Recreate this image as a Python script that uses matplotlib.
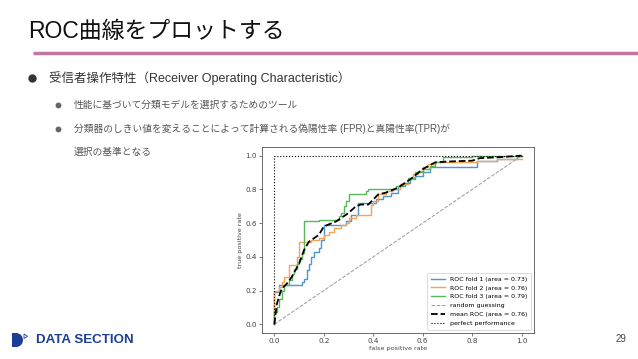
import matplotlib
matplotlib.use('Agg')
import matplotlib.pyplot as plt
from matplotlib.patches import Rectangle, Wedge, Polygon

# ROC data (corner points of each step curve)
fold1_fpr = [0.0, 0.0, 0.02, 0.11, 0.12, 0.13, 0.14, 0.15, 0.16, 0.18, 0.19, 0.2, 0.29, 0.31, 0.34,
             0.41, 0.44, 0.47, 0.5, 0.53, 0.55, 0.57, 0.6, 0.63, 0.82, 0.9, 0.98, 1.0]
fold1_tpr = [0.0, 0.19, 0.23, 0.25, 0.27, 0.32, 0.36, 0.40, 0.43, 0.45, 0.50, 0.59, 0.61, 0.65, 0.72,
             0.74, 0.76, 0.78, 0.82, 0.84, 0.86, 0.88, 0.90, 0.93, 0.97, 0.98, 1.0, 1.0]

fold2_fpr = [0.0, 0.0, 0.02, 0.03, 0.04, 0.06, 0.09, 0.10, 0.15, 0.18, 0.2, 0.22, 0.24, 0.27, 0.29,
             0.3, 0.33, 0.39, 0.40, 0.42, 0.45, 0.48, 0.51, 0.54, 0.56, 0.58, 0.6, 0.62, 0.65,
             0.82, 0.9, 1.0]
fold2_tpr = [0.0, 0.20, 0.22, 0.25, 0.28, 0.35, 0.40, 0.49, 0.50, 0.51, 0.53, 0.55, 0.57, 0.59, 0.60,
             0.63, 0.65, 0.71, 0.73, 0.77, 0.79, 0.80, 0.83, 0.86, 0.89, 0.91, 0.93, 0.95, 0.96,
             0.97, 0.98, 0.98]

fold3_fpr = [0.0, 0.0, 0.01, 0.02, 0.03, 0.04, 0.06, 0.07, 0.08, 0.09, 0.10, 0.11, 0.12, 0.18, 0.26,
             0.27, 0.28, 0.29, 0.3, 0.37, 0.38, 0.49, 0.52, 0.54, 0.57, 0.6, 0.63, 0.65, 0.68,
             0.8, 1.0]
fold3_tpr = [0.0, 0.07, 0.10, 0.15, 0.20, 0.23, 0.26, 0.30, 0.33, 0.36, 0.39, 0.42, 0.61, 0.62, 0.64,
             0.66, 0.70, 0.73, 0.77, 0.79, 0.80, 0.82, 0.84, 0.87, 0.90, 0.92, 0.94, 0.96, 0.99,
             1.0, 1.0]

mean_fpr = [0.0, 0.01, 0.02, 0.03, 0.05, 0.07, 0.1, 0.12, 0.14, 0.16, 0.18, 0.2, 0.25, 0.3, 0.33,
            0.35, 0.38, 0.4, 0.42, 0.45, 0.5, 0.55, 0.6, 0.65, 0.7, 0.8, 0.83, 0.9, 1.0]
mean_tpr = [0.0, 0.12, 0.17, 0.21, 0.24, 0.28, 0.36, 0.44, 0.49, 0.51, 0.53, 0.58, 0.61, 0.66, 0.70,
            0.71, 0.71, 0.74, 0.77, 0.78, 0.81, 0.86, 0.92, 0.96, 0.965, 0.97, 0.985, 0.99, 1.0]

fold_labels = ['ROC fold 1 (area = 0.73)', 'ROC fold 2 (area = 0.76)', 'ROC fold 3 (area = 0.79)']
mean_label = 'mean ROC (area = 0.76)'

title = 'ROC曲線をプロットする'
bullet1 = '受信者操作特性（Receiver Operating Characteristic）'
sub_bullets = ['性能に基づいて分類モデルを選択するためのツール',
               '分類器のしきい値を変えることによって計算される偽陽性率 (FPR)と真陽性率(TPR)が']
sub_cont = '選択の基準となる'

jp = ['Liberation Sans', 'Noto Sans CJK JP']

fig = plt.figure(figsize=(6.38, 3.59), dpi=100)

# slide background layer in pixel coordinates
bg = fig.add_axes([0, 0, 1, 1])
bg.set_xlim(0, 638)
bg.set_ylim(359, 0)
bg.axis('off')

bg.text(28, 31, title, fontsize=16.5, family=jp, color='#111111', va='center')
bg.plot([33, 638], [53, 53], color='#c2789f', lw=2.5, solid_capstyle='butt')

bg.plot([32], [78], 'o', ms=5, color='#333333')
bg.text(49, 78, bullet1, fontsize=9, family=jp, color='#333333', va='center')

for y, s in zip([105, 129], sub_bullets):
    bg.plot([58], [y], 'o', ms=3.2, color='#666666')
    bg.text(74, y, s, fontsize=7, family=jp, color='#555555', va='center')
bg.text(74, 152, sub_cont, fontsize=7, family=jp, color='#555555', va='center')

# footer logo
navy = '#1c3f94'
bg.add_patch(Rectangle((12, 333), 4.5, 14, color=navy, lw=0))
bg.add_patch(Wedge((16, 340), 7, -90, 90, color=navy, lw=0))
bg.add_patch(Polygon([[24, 334], [24, 338.5], [27.5, 336.2]], closed=True, fill=False,
                     edgecolor=navy, lw=0.6))
bg.text(36, 340, 'DATA SECTION', fontsize=9.6, fontweight='bold', family='Liberation Sans',
        color=navy, va='center')
bg.text(621, 339, '29', fontsize=7, family='Liberation Sans', color='#444444',
        va='center', ha='center')

# ROC chart
ax = fig.add_axes([262 / 638, (359 - 332.7) / 359, 272 / 638, 185.5 / 359])
colors = ['#4f96cf', '#f7a354', '#5cb65c']
for fpr, tpr, c, lab in zip([fold1_fpr, fold2_fpr, fold3_fpr],
                            [fold1_tpr, fold2_tpr, fold3_tpr], colors, fold_labels):
    ax.step(fpr, tpr, where='post', color=c, lw=1.0, label=lab)
ax.plot([0, 1], [0, 1], linestyle='--', color=(0.6, 0.6, 0.6), lw=0.7, label='random guessing')
ax.plot(mean_fpr, mean_tpr, 'k--', lw=1.3, label=mean_label)
ax.plot([0, 0, 1], [0, 1, 1], linestyle=':', color='black', lw=0.8, label='perfect performance')

ax.set_xlim(-0.05, 1.05)
ax.set_ylim(-0.05, 1.05)
ax.set_xticks([0.0, 0.2, 0.4, 0.6, 0.8, 1.0])
ax.set_yticks([0.0, 0.2, 0.4, 0.6, 0.8, 1.0])
ax.tick_params(labelsize=5.2, length=2, width=0.5, pad=1.5, colors='#444444')
for sp in ax.spines.values():
    sp.set_linewidth(0.6)
    sp.set_color('#555555')
ax.set_xlabel('false positive rate', fontsize=4.6, labelpad=2, color='#444444')
ax.set_ylabel('true positive rate', fontsize=4.6, labelpad=2, color='#444444')
leg = ax.legend(loc='lower right', fontsize=4.5, handlelength=2.2, borderpad=0.6,
                labelspacing=0.55, framealpha=1)
leg.get_frame().set_linewidth(0.5)

fig.savefig('out.png', dpi=100)
